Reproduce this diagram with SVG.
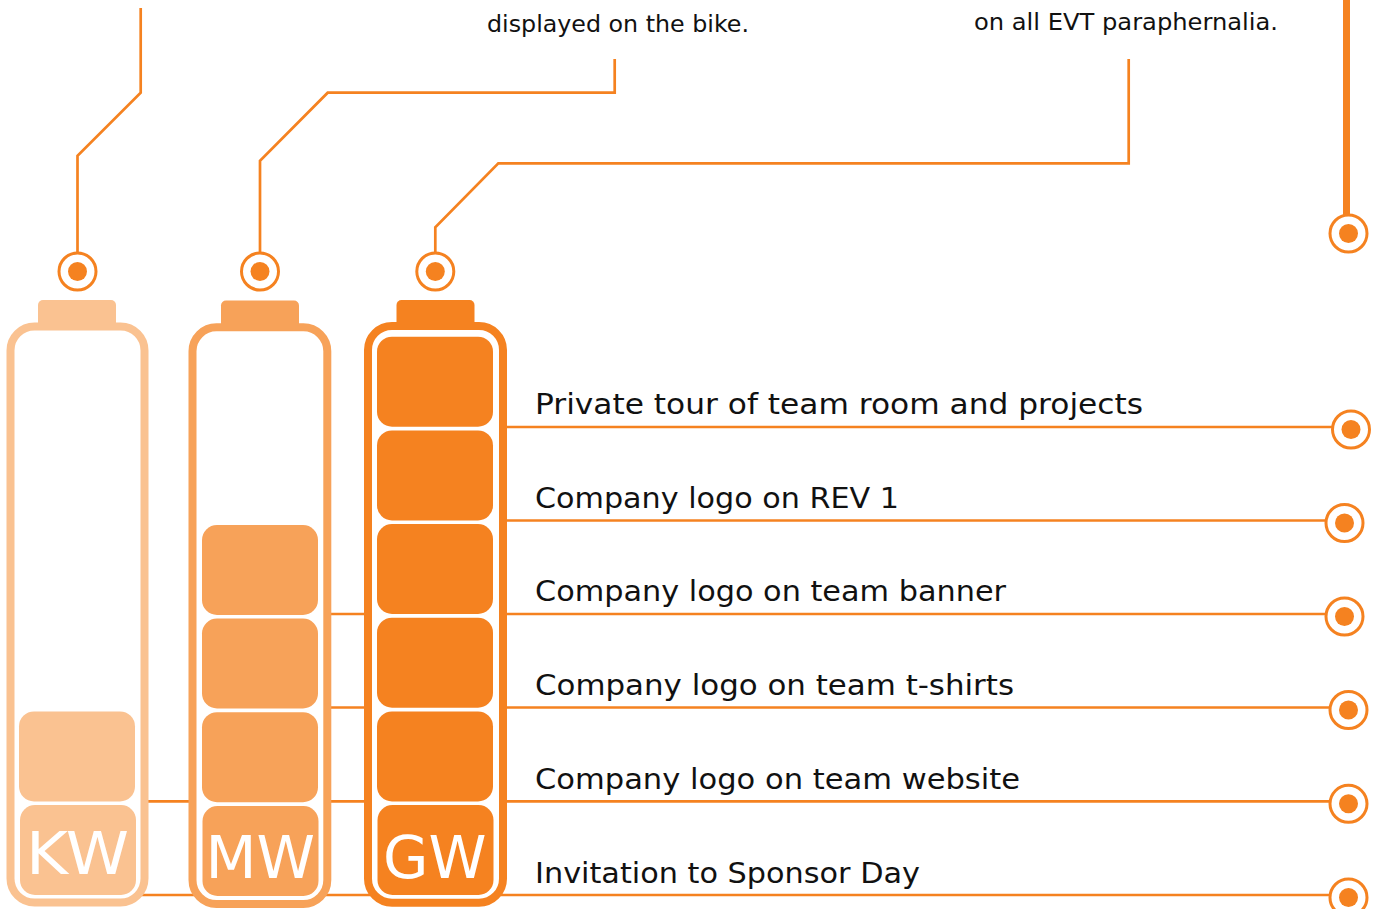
<svg xmlns="http://www.w3.org/2000/svg" width="1379" height="909" viewBox="0 0 1379 909">
  <style>
    .wire { fill: none; stroke: #F58220; stroke-width: 2.7; }
    .wire-thick { fill: none; stroke: #F58220; stroke-width: 7; }
    .pin-ring { fill: #FFFFFF; stroke: #F58220; stroke-width: 3; }
    .pin-dot { fill: #F58220; }
    .shell { fill: #FFFFFF; stroke-width: 8; }
    .tier-kw { fill: #FAC291; }
    .tier-mw { fill: #F7A259; }
    .tier-gw { fill: #F58220; }
    .shell-kw { stroke: #FAC291; }
    .shell-mw { stroke: #F7A259; }
    .shell-gw { stroke: #F58220; }
    .tag { font-family: "DejaVu Sans", "Liberation Sans", sans-serif; font-size: 58px; fill: #FFFFFF; }
    .perk { font-family: "DejaVu Sans", "Liberation Sans", sans-serif; font-size: 28px; fill: #111111; }
    .note { font-family: "DejaVu Sans", "Liberation Sans", sans-serif; font-size: 23px; fill: #111111; }
  </style>

  <!-- connectors: leader lines and perk rails -->
  <g id="connectors">
    <path class="wire" d="M77.5 252 V155.7 L140.7 92.7 V8"/>
    <path class="wire" d="M260 252 V160.7 L327.7 92.7 H614.7 V59"/>
    <path class="wire" d="M435.3 252 V227.3 L498.3 163.3 H1128.7 V59"/>
    <path class="wire-thick" d="M1346.5 0 V216"/>
    <path class="wire" d="M435 427 H1351"/>
    <path class="wire" d="M435 520.5 H1344.5"/>
    <path class="wire" d="M260 614 H1344.5"/>
    <path class="wire" d="M260 707.5 H1348.5"/>
    <path class="wire" d="M77 801.3 H1348.5"/>
    <path class="wire" d="M77 895 H1348.5"/>
  </g>

  <!-- top annotations -->
  <g id="note-bike">
    <text class="note" x="487" y="32" textLength="262" lengthAdjust="spacingAndGlyphs">displayed on the bike.</text>
  </g>
  <g id="note-evt">
    <text class="note" x="974" y="30" textLength="304" lengthAdjust="spacingAndGlyphs">on all EVT paraphernalia.</text>
  </g>

  <!-- pins -->
  <g id="pin-kw"><circle class="pin-ring" cx="77.5" cy="271.5" r="18.5"/><circle class="pin-dot" cx="77.5" cy="271.5" r="9.5"/></g>
  <g id="pin-mw"><circle class="pin-ring" cx="260" cy="271.5" r="18.5"/><circle class="pin-dot" cx="260" cy="271.5" r="9.5"/></g>
  <g id="pin-gw"><circle class="pin-ring" cx="435.3" cy="271.5" r="18.5"/><circle class="pin-dot" cx="435.3" cy="271.5" r="9.5"/></g>
  <g id="pin-top-right"><circle class="pin-ring" cx="1348.5" cy="233.5" r="18.5"/><circle class="pin-dot" cx="1348.5" cy="233.5" r="9.5"/></g>

  <!-- KW battery -->
  <g id="battery-kw">
    <rect class="tier-kw" x="38" y="300" width="78" height="30" rx="5"/>
    <rect class="shell shell-kw" x="10.5" y="326.5" width="134" height="576" rx="24"/>
    <rect class="tier-kw" x="19" y="711.4" width="116" height="90" rx="15"/>
    <rect class="tier-kw" x="20" y="805" width="116" height="90" rx="15"/>
    <text class="tag" x="26" y="874" textLength="103" lengthAdjust="spacingAndGlyphs">KW</text>
  </g>

  <!-- MW battery -->
  <g id="battery-mw">
    <rect class="tier-mw" x="221" y="300.5" width="78" height="30" rx="5"/>
    <rect class="shell shell-mw" x="192.5" y="327.3" width="134.8" height="576.7" rx="24"/>
    <rect class="tier-mw" x="202" y="525" width="116" height="90" rx="15"/>
    <rect class="tier-mw" x="202" y="618.5" width="116" height="90" rx="15"/>
    <rect class="tier-mw" x="202" y="712.2" width="116" height="90" rx="15"/>
    <rect class="tier-mw" x="202.5" y="806" width="116" height="90" rx="15"/>
    <text class="tag" x="205.5" y="878" textLength="109.5" lengthAdjust="spacingAndGlyphs">MW</text>
  </g>

  <!-- GW battery -->
  <g id="battery-gw">
    <rect class="tier-gw" x="396.5" y="300" width="78" height="30" rx="5"/>
    <rect class="shell shell-gw" x="368" y="326" width="135" height="576.7" rx="24"/>
    <rect class="tier-gw" x="377" y="336.7" width="116" height="90" rx="15"/>
    <rect class="tier-gw" x="377" y="430.4" width="116" height="90" rx="15"/>
    <rect class="tier-gw" x="377" y="524" width="116" height="90" rx="15"/>
    <rect class="tier-gw" x="377" y="617.7" width="116" height="90" rx="15"/>
    <rect class="tier-gw" x="377" y="711.4" width="116" height="90" rx="15"/>
    <rect class="tier-gw" x="377.5" y="805" width="116" height="90" rx="15"/>
    <text class="tag" x="383" y="878" textLength="103.5" lengthAdjust="spacingAndGlyphs">GW</text>
  </g>

  <!-- perks -->
  <g id="perk-tour">
    <text class="perk" x="535" y="414" textLength="608" lengthAdjust="spacingAndGlyphs">Private tour of team room and projects</text>
    <circle class="pin-ring" cx="1351" cy="429.5" r="18.5"/><circle class="pin-dot" cx="1351" cy="429.5" r="9.5"/>
  </g>
  <g id="perk-rev1">
    <text class="perk" x="535" y="507.5" textLength="364" lengthAdjust="spacingAndGlyphs">Company logo on REV 1</text>
    <circle class="pin-ring" cx="1344.5" cy="523" r="18.5"/><circle class="pin-dot" cx="1344.5" cy="523" r="9.5"/>
  </g>
  <g id="perk-banner">
    <text class="perk" x="535" y="601" textLength="471" lengthAdjust="spacingAndGlyphs">Company logo on team banner</text>
    <circle class="pin-ring" cx="1344.5" cy="616.5" r="18.5"/><circle class="pin-dot" cx="1344.5" cy="616.5" r="9.5"/>
  </g>
  <g id="perk-tshirts">
    <text class="perk" x="535" y="694.5" textLength="479" lengthAdjust="spacingAndGlyphs">Company logo on team t-shirts</text>
    <circle class="pin-ring" cx="1348.5" cy="710" r="18.5"/><circle class="pin-dot" cx="1348.5" cy="710" r="9.5"/>
  </g>
  <g id="perk-website">
    <text class="perk" x="535" y="788.5" textLength="485" lengthAdjust="spacingAndGlyphs">Company logo on team website</text>
    <circle class="pin-ring" cx="1348.5" cy="803.8" r="18.5"/><circle class="pin-dot" cx="1348.5" cy="803.8" r="9.5"/>
  </g>
  <g id="perk-sponsor-day">
    <text class="perk" x="535" y="882.5" textLength="385" lengthAdjust="spacingAndGlyphs">Invitation to Sponsor Day</text>
    <circle class="pin-ring" cx="1348.5" cy="897.5" r="18.5"/><circle class="pin-dot" cx="1348.5" cy="897.5" r="9.5"/>
  </g>
</svg>
